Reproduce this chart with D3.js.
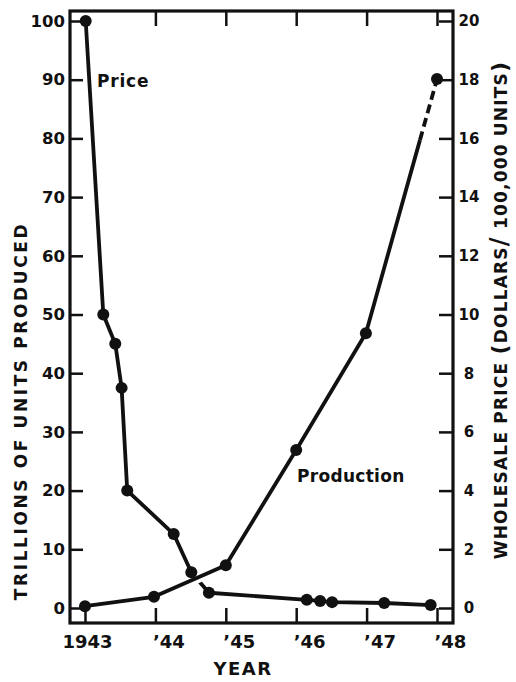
<!DOCTYPE html>
<html>
<head>
<meta charset="utf-8">
<script src="https://cdn.jsdelivr.net/npm/d3@7"></script>
<style>
  body { margin: 0; background: #fff; }
  svg text { font-family: "DejaVu Sans", sans-serif; font-weight: bold; fill: #111; }
</style>
</head>
<body>
<div class="svg-container"></div>
<script>
// data
const yearTicks = [1943, 1944, 1945, 1946, 1947, 1948];
const yearLabels = ['1943', '\u201944', '\u201945', '\u201946', '\u201947', '\u201948'];
const prodTicks = [0, 10, 20, 30, 40, 50, 60, 70, 80, 90, 100];
const priceTicks = [0, 2, 4, 6, 8, 10, 12, 14, 16, 18, 20];

const prodYears = [1943.0, 1943.98, 1945.0, 1946.0, 1946.99, 1948.0];
const prodValues = [0.3, 1.9, 7.3, 26.9, 46.8, 90.1];
const dashFrom = 0.76; // last segment is dashed from here on

const priceYears = [1943.01, 1943.26, 1943.43, 1943.52, 1943.60, 1944.26, 1944.51,
                    1944.76, 1946.15, 1946.34, 1946.51, 1947.25, 1947.91];
const priceValues = [20, 10, 9, 7.5, 4, 2.52, 1.22, 0.52, 0.28, 0.24, 0.2, 0.17, 0.1];

const width = 516;
const height = 682;
const frame = { left: 70, right: 453, top: 11, bottom: 623 };

const svg = d3.select('.svg-container')
  .append('svg')
  .attr('width', width)
  .attr('height', height);

const x = d3.scaleLinear().domain([1943, 1948]).range([85, 437]);
const y = d3.scaleLinear().domain([0, 100]).range([608, 21]);
const yR = d3.scaleLinear().domain([0, 20]).range([608, 21]);

// axes (ticks point inward)
const axLeft = svg.append('g')
  .attr('transform', `translate(${frame.left},0)`)
  .call(d3.axisLeft(y).tickValues(prodTicks).tickSize(-13).tickPadding(5));

const axRight = svg.append('g')
  .attr('transform', `translate(${frame.right},0)`)
  .call(d3.axisRight(yR).tickValues(priceTicks).tickSize(-14).tickPadding(16));

const axBottom = svg.append('g')
  .attr('transform', `translate(0,${frame.bottom})`)
  .call(d3.axisBottom(x).tickValues(yearTicks).tickSize(-15)
    .tickFormat((d, i) => yearLabels[i]));

const axTop = svg.append('g')
  .attr('transform', `translate(0,${frame.top})`)
  .call(d3.axisTop(x).tickValues(yearTicks.slice(1)).tickSize(-15).tickFormat(''));

[axLeft, axRight, axBottom, axTop].forEach(g => {
  g.select('.domain').remove();
  g.selectAll('.tick line').attr('stroke', '#111').attr('stroke-width', 2.5);
});

axLeft.selectAll('text').style('font-size', '16.5px');
axRight.selectAll('text').style('font-size', '15px').attr('text-anchor', 'middle');
axBottom.selectAll('text')
  .style('font-size', '18px')
  .attr('y', 25)
  .attr('dy', 0)
  .attr('text-anchor', (d, i) => i === 0 ? 'middle' : 'start')
  .attr('dx', (d, i) => i === 0 ? 2 : -3);

// frame
svg.append('rect')
  .attr('x', frame.left)
  .attr('y', frame.top)
  .attr('width', frame.right - frame.left)
  .attr('height', frame.bottom - frame.top)
  .attr('fill', 'none')
  .attr('stroke', '#111')
  .attr('stroke-width', 3.2);

// lines
const price = priceYears.map((d, i) => [x(d), yR(priceValues[i])]);
const prod = prodYears.map((d, i) => [x(d), y(prodValues[i])]);
const n = prod.length;
const brk = d3.interpolate(prod[n - 2], prod[n - 1])(dashFrom);
const line = d3.line();

svg.append('path')
  .attr('d', line(price))
  .attr('fill', 'none')
  .attr('stroke', '#111')
  .attr('stroke-width', 3.8)
  .attr('stroke-linejoin', 'round');

// white halo so the price line breaks where production crosses it
svg.append('path')
  .attr('d', line(prod.slice(0, n - 1).concat([brk])))
  .attr('fill', 'none')
  .attr('stroke', '#fff')
  .attr('stroke-width', 11);

svg.append('path')
  .attr('d', line(prod.slice(0, n - 1).concat([brk])))
  .attr('fill', 'none')
  .attr('stroke', '#111')
  .attr('stroke-width', 3.8)
  .attr('stroke-linejoin', 'round');

svg.append('path')
  .attr('d', line([brk, prod[n - 1]]))
  .attr('fill', 'none')
  .attr('stroke', '#111')
  .attr('stroke-width', 3.8)
  .attr('stroke-dasharray', '9,5');

// dots
svg.selectAll('.pdot')
  .data(price)
  .enter()
  .append('circle')
  .attr('class', 'pdot')
  .attr('cx', d => d[0])
  .attr('cy', d => d[1])
  .attr('r', 6)
  .attr('fill', '#111');

svg.selectAll('.qdot')
  .data(prod)
  .enter()
  .append('circle')
  .attr('class', 'qdot')
  .attr('cx', d => d[0])
  .attr('cy', d => d[1])
  .attr('r', 6)
  .attr('fill', '#111');

// labels
svg.append('text')
  .attr('x', 97).attr('y', 87)
  .style('font-size', '17px')
  .attr('letter-spacing', 0.8)
  .text('Price');

svg.append('text')
  .attr('x', 297).attr('y', 482)
  .style('font-size', '17px')
  .attr('letter-spacing', 0.3)
  .text('Production');

svg.append('text')
  .attr('x', 243).attr('y', 675)
  .attr('text-anchor', 'middle')
  .style('font-size', '18px')
  .attr('letter-spacing', 1.5)
  .text('YEAR');

svg.append('text')
  .attr('transform', 'translate(27,411) rotate(-90)')
  .attr('text-anchor', 'middle')
  .style('font-size', '17px')
  .attr('letter-spacing', 2.6)
  .text('TRILLIONS OF UNITS PRODUCED');

const rt = svg.append('text')
  .attr('transform', 'translate(507,310) rotate(-90)')
  .attr('text-anchor', 'middle')
  .style('font-size', '17px')
  .attr('letter-spacing', 1.2);
rt.append('tspan').text('WHOLESALE PRICE ');
rt.append('tspan').style('font-size', '22px').text('(');
rt.append('tspan').text('DOLLARS');
rt.append('tspan').style('font-size', '24px').text('/');
rt.append('tspan').text(' 100,000 UNITS');
rt.append('tspan').style('font-size', '22px').text(')');
</script>
</body>
</html>
